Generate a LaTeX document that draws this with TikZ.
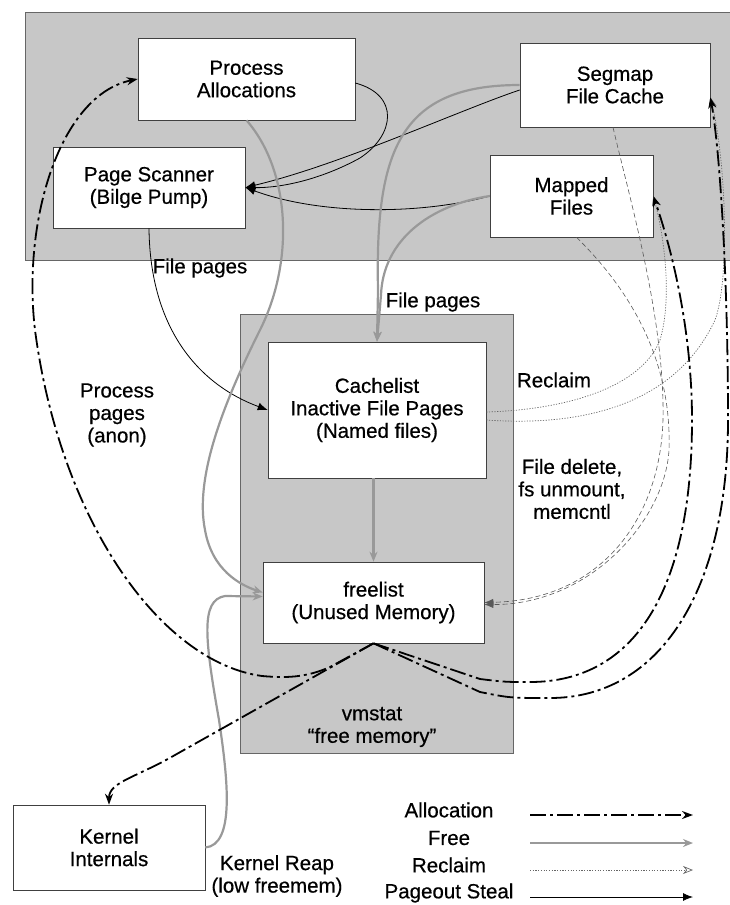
\documentclass[tikz,border=0pt]{standalone}
\usepackage{fontspec}
\setmainfont{Liberation Sans}
\newfontfamily\heavy{Liberation Sans}[FakeBold=0.5]
\usetikzlibrary{arrows.meta,calc}
\begin{document}
\begin{tikzpicture}[x=1pt,y=-1pt,
  every node/.style={font=\heavy\fontsize{20.5}{22.5}\selectfont, align=center, inner sep=0pt},
  box/.style={draw=black!75, line width=0.6pt, fill=white},
  region/.style={draw=black!60, line width=0.6pt, fill=black!22},
  alloc/.style={line width=1.8pt, black, dash pattern=on 16pt off 4pt on 3pt off 4pt, -{Stealth[length=11pt,width=8pt]}},
  allocopen/.style={alloc, -{Stealth[open,length=11pt,width=8pt]}},
  freeline/.style={line width=2.2pt, draw=black!40, -{Stealth[length=10pt,width=8pt]}},
  reclaim/.style={line width=0.7pt, draw=black!60, dash pattern=on 1.2pt off 1.5pt, -{Stealth[open,length=10pt,width=8pt]}},
  steal/.style={line width=0.8pt, black, -{Latex[length=10pt,width=8pt]}},
  deleteline/.style={line width=0.6pt, draw=black!65, dash pattern=on 5pt off 3pt, -{Latex[length=9pt,width=7pt]}}
]
\useasboundingbox (0,0) rectangle (730,905);

% shaded regions
\node[region, minimum width=705pt, minimum height=248pt] (band) at (377.5,136) {};
\node[region, minimum width=273pt, minimum height=439pt] (col) at (376.5,533.5) {};

% boxes
\node[box, minimum width=217pt, minimum height=82pt] (pa) at (246.5,79) {Process\\Allocations};
\node[box, minimum width=192pt, minimum height=81pt] (ps) at (149,187.5) {Page Scanner\\(Bilge Pump)};
\node[box, minimum width=190pt, minimum height=84pt] (seg) at (615,85) {Segmap\\File Cache};
\node[box, minimum width=163pt, minimum height=82pt] (mf) at (571.5,196) {Mapped\\Files};
\node[box, minimum width=218pt, minimum height=136pt] (cl) at (377,410) {Cachelist\\Inactive File Pages\\(Named files)};
\node[box, minimum width=221pt, minimum height=81pt] (fl) at (373.5,602.5) {freelist\\(Unused Memory)};
\node[box, minimum width=192pt, minimum height=85pt] (ki) at (109,847.5) {Kernel\\Internals};

% labels
\node (vm) at (372,727) {vmstat\\“free memory”};
\node (fp1) at (200,268) {File pages};
\node (fp2) at (433,302) {File pages};
\node (rc) at (554,380) {Reclaim};
\node (fd) at (572,489) {File delete,\\fs unmount,\\memcntl};
\node (pp) at (117,415) {Process\\pages\\(anon)};
\node (kr) at (277,876) {Kernel Reap\\(low freemem)};

% Pageout steal
\draw[steal] (ps.south) .. controls (150,330) and (200,385) .. (cl.west);
\draw[steal] ($(pa.east)+(0,4)$) .. controls (400,95) and (395,135) .. (360,158) .. controls (320,180) and (280,188) .. (ps.east);
\draw[steal] ($(seg.west)+(0,5)$) .. controls (460,110) and (340,165) .. (ps.east);
\draw[steal] (mf.west) .. controls (420,215) and (320,215) .. (ps.east);

% Free
\draw[freeline] (pa.south) .. controls (290,170) and (295,260) .. (260,330) .. controls (220,410) and (195,480) .. (205,530) .. controls (212,570) and (240,585) .. ($(fl.west)+(0,-10)$);
\draw[freeline] (seg.west) .. controls (400,85) and (375,150) .. (378,290) -- (cl.north);
\draw[freeline] (mf.west) .. controls (430,205) and (383,240) .. (381,295) -- (cl.north);
\draw[freeline] (fl.north |- cl.south) -- (fl.north);
\draw[freeline] (ki.east) .. controls (235,845) and (228,780) .. (219,720) .. controls (205,640) and (200,600) .. (225,596) -- ($(fl.west)+(0,-6)$);

% Reclaim
\draw[reclaim] ($(cl.east)+(0,2)$) .. controls (560,410) and (640,390) .. (660,340) .. controls (672,300) and (665,240) .. (mf.east);
\draw[reclaim] ($(cl.east)+(0,10)$) .. controls (600,428) and (680,395) .. (715,320) .. controls (730,280) and (726,160) .. ($(seg.south east)+(0,-30)$);

% File delete, fs unmount, memcntl
\draw[deleteline] ($(seg.south)+(-2,0)$) .. controls (630,200) and (665,320) .. (663,420) .. controls (660,520) and (600,600) .. (fl.east);
\draw[deleteline] ($(mf.south)+(5,0)$) .. controls (630,290) and (672,360) .. (669,450) .. controls (665,520) and (590,605) .. ($(fl.east)+(0,2)$);

% Allocation
\draw[alloc] (fl.south) -- (330,667) .. controls (305,678) and (285,678) .. (262,676) .. controls (160,662) and (60,520) .. (35,330) .. controls (22,220) and (60,95) .. (pa.west);
\draw[alloc] (fl.south) -- (175,755) .. controls (135,778) and (109,782) .. (ki.north);
\draw[allocopen] (fl.south) -- (480,679) .. controls (505,682) .. (530,682) .. controls (635,682) and (692,590) .. (692,420) .. controls (692,330) and (672,250) .. (mf.east);
\draw[allocopen] (fl.south) -- (480,692) .. controls (510,698) .. (550,698) .. controls (660,698) and (728,590) .. (728,420) .. controls (728,280) and (720,150) .. ($(seg.south east)+(0,-30)$);

% legend
\node (la) at (449,810) {Allocation};
\node (lf) at (449,838) {Free};
\node (lr) at (449,865) {Reclaim};
\node (lp) at (449,893) {Pageout Steal};
\coordinate (a1) at (530,815); \coordinate (a2) at (693,815);
\coordinate (f1) at (530,843); \coordinate (f2) at (693,843);
\coordinate (r1) at (530,870); \coordinate (r2) at (693,870);
\coordinate (p1) at (530,897); \coordinate (p2) at (693,897);
\draw[alloc] (a1) -- (a2);
\draw[freeline] (f1) -- (f2);
\draw[reclaim] (r1) -- (r2);
\draw[steal] (p1) -- (p2);
\end{tikzpicture}
\end{document}
